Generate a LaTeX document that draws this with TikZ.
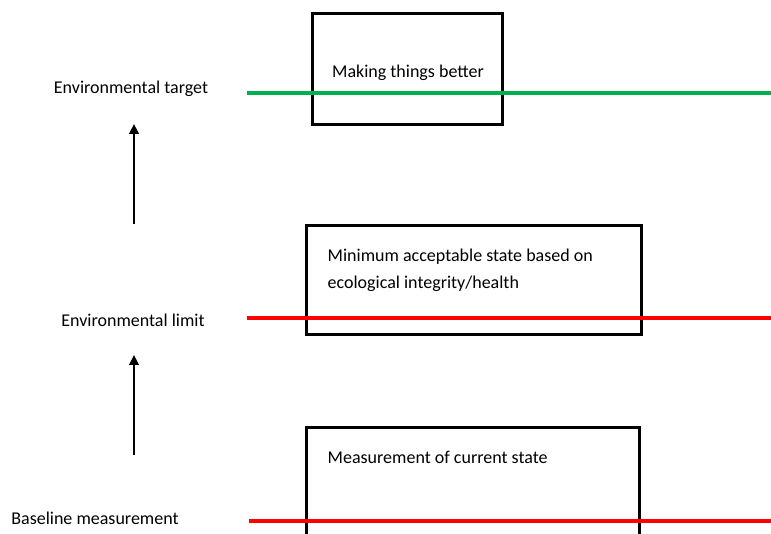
\documentclass[tikz,border=0pt]{standalone}
\usepackage{fontspec}
\setmainfont{Carlito}
\usetikzlibrary{arrows.meta,positioning}

\definecolor{targetgreen}{RGB}{0,176,80}
\definecolor{limitred}{RGB}{255,0,0}

\begin{document}
\begin{tikzpicture}[
  x=1pt, y=-1pt,
  font=\fontsize{18}{27}\selectfont,
  lbl/.style={inner sep=0pt},
  box/.style={draw, line width=3pt, inner sep=0pt},
  boxtext/.style={anchor=north west, align=left, inner sep=0pt},
  level/.style={line width=3.4pt},
  rise/.style={-{Triangle[length=10pt,width=9.5pt]}, line width=2.6pt}
]
\useasboundingbox (0,0) rectangle (771,534);
\clip (0,0) rectangle (771,534);

% Level labels
\node[lbl] (targetlbl) at (131,89) {Environmental target};
\node[lbl] (limitlbl) at (133,320) {Environmental limit};
\node[lbl] (baselbl) at (95,518) {Baseline measurement};

% Boxes
\node[box, minimum width=190, minimum height=111] (betterbox) at (407,69.5) {};
\node[lbl] (bettertext) at (408,73) {Making things better};

\node[box, minimum width=335, minimum height=109] (limitbox) at (473.5,280.5) {};
\node[boxtext, below right=24pt and 23pt of limitbox.north west] (limittext)
  {Minimum acceptable state based on\\ecological integrity/health};

\node[box, minimum width=333, minimum height=200] (basebox) at (472.5,527) {};
\node[boxtext, below right=25pt and 23pt of basebox.north west] (basetext)
  {Measurement of current state};

% Level lines
\coordinate (targetstart) at (247,93);
\coordinate (targetend) at (771,93);
\coordinate (limitstart) at (247,318);
\coordinate (limitend) at (771,318);
\coordinate (basestart) at (249,521);
\coordinate (baseend) at (771,521);

\draw[level, targetgreen] (targetstart) -- (targetend);
\draw[level, limitred] (limitstart) -- (limitend);
\draw[level, limitred] (basestart) -- (baseend);

% Arrows between levels
\coordinate (riseafrom) at (134,224);
\coordinate (riseato) at (134,124);
\coordinate (risebfrom) at (134,455);
\coordinate (risebto) at (134,355);

\draw[rise] (riseafrom) -- (riseato);
\draw[rise] (risebfrom) -- (risebto);

\end{tikzpicture}
\end{document}
